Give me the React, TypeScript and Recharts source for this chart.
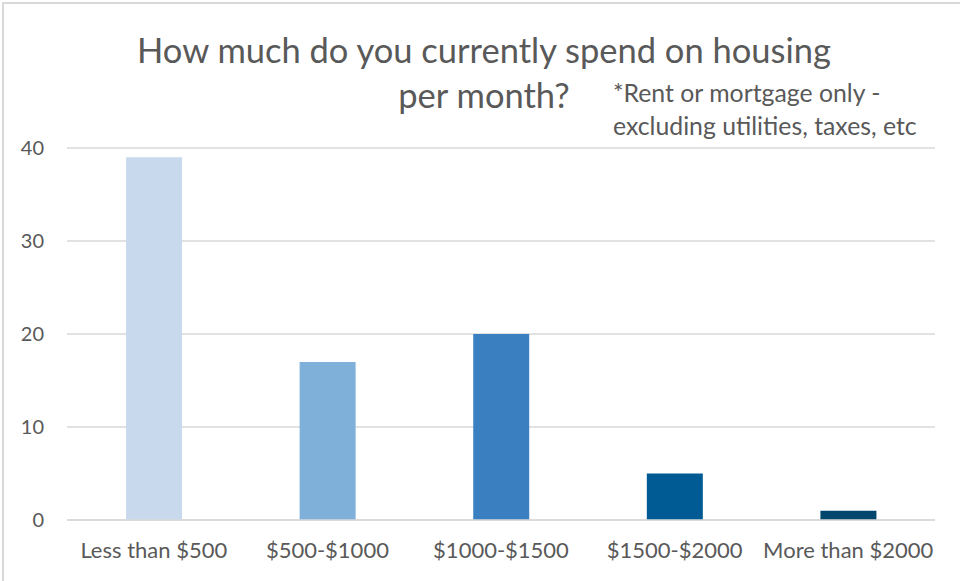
import React from "react";
import { BarChart, Bar, XAxis, YAxis, CartesianGrid, Cell } from "recharts";

const categories = ["Less than $500", "$500-$1000", "$1000-$1500", "$1500-$2000", "More than $2000"];
const counts = [39, 17, 20, 5, 1];
const barColors = ["#C9D9ED", "#7FB0DA", "#3A80C0", "#005B94", "#00466D"];
const yTicks = [0, 10, 20, 30, 40];

const data = categories.map((name, i) => ({ name, value: counts[i] }));

const FONT = "Lato, 'Open Sans', sans-serif";
const GREY = "#595959";

export default function App() {
  return (
    <div style={{ position: "fixed", left: 0, top: 0, width: 960, height: 581, background: "#fff", overflow: "hidden", fontFamily: FONT }}>
      <div style={{ position: "absolute", left: 2, top: 2, width: 980, height: 600, borderLeft: "2px solid #d9d9d9", borderTop: "2px solid #d9d9d9" }} />
      <BarChart width={960} height={581} data={data} margin={{ top: 148, right: 25, bottom: 0, left: 0 }} barCategoryGap="34%">
        <CartesianGrid vertical={false} stroke="#d9d9d9" strokeWidth={1.5} />
        <XAxis
          dataKey="name"
          axisLine={{ stroke: "#d9d9d9", strokeWidth: 1.5 }}
          tickLine={false}
          height={61}
          tickMargin={16}
          tick={{ fontSize: 22, fill: GREY, fontFamily: FONT }}
          interval={0}
        />
        <YAxis
          domain={[0, 40]}
          ticks={yTicks}
          width={67}
          axisLine={false}
          tickLine={false}
          tickMargin={17}
          tick={{ fontSize: 20, fill: GREY, fontFamily: FONT }}
        />
        <Bar dataKey="value" isAnimationActive={false}>
          {data.map((d, i) => (
            <Cell key={d.name} fill={barColors[i]} />
          ))}
        </Bar>
      </BarChart>
      <div style={{ position: "absolute", left: 0, width: 968, top: 27, textAlign: "center", fontSize: 34.5, color: GREY, lineHeight: "45px" }}>
        How much do you currently spend on housing
        <br />
        per month?
      </div>
      <div style={{ position: "absolute", left: 613, top: 76, fontSize: 24.8, color: GREY, lineHeight: "33px" }}>
        *Rent or mortgage only -
        <br />
        excluding utilities, taxes, etc
      </div>
    </div>
  );
}
